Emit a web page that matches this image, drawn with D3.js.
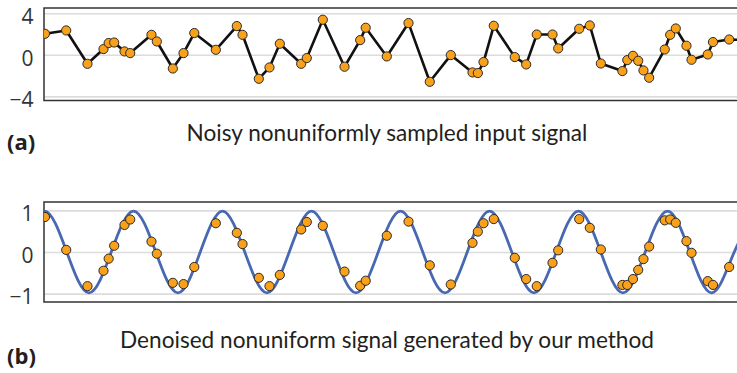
<!DOCTYPE html>
<html>
<head>
<meta charset="utf-8">
<script src="https://cdn.jsdelivr.net/npm/d3@7"></script>
<style>
  body { margin: 0; background: #fff; }
  svg { display: block; }
</style>
</head>
<body>
<div id="chart"></div>
<script>
// sample times (shared by both panels), in periods of the clean signal
const sampleT = [0.005, 0.244, 0.483, 0.663, 0.721, 0.783, 0.899, 0.963, 1.202, 1.262,
    1.442, 1.562, 1.683, 1.925, 2.161, 2.225, 2.408, 2.528, 2.644, 2.884,
    2.947, 3.127, 3.371, 3.547, 3.609, 3.846, 4.090, 4.329, 4.565, 4.809,
    4.869, 4.933, 5.048, 5.284, 5.412, 5.531, 5.708, 5.772, 6.008, 6.127,
    6.251, 6.493, 6.548, 6.612, 6.671, 6.730, 6.794, 6.969, 7.030, 7.093,
    7.213, 7.270, 7.452, 7.511, 7.693, 7.91];

// panel (a): noisy input values
const noisyV = [2.02, 2.34, -0.87, 0.55, 1.13, 1.18, 0.32, 0.16, 1.92, 1.28,
    -1.32, 0.16, 2.09, 0.48, 2.76, 1.92, -2.31, -1.22, 1.06, -0.87,
    -0.32, 3.37, -1.15, 1.41, 2.6, -0.16, 3.05, -2.6, -0.03, -1.7,
    -1.76, -0.7, 2.79, -0.22, -0.93, 1.95, 1.95, 0.61, 2.5, 2.82,
    -0.84, -1.57, -0.51, -0.1, -0.58, -1.51, -2.21, 0.51, 1.92, 2.53,
    0.87, -0.48, 0.03, 1.22, 1.47, 1.4];

// panel (b): denoised values at the same times
const denoisedV = [0.84, 0.05, -0.82, -0.45, -0.16, 0.15, 0.65, 0.78, 0.25, -0.04,
    -0.74, -0.77, -0.36, 0.69, 0.46, 0.19, -0.62, -0.82, -0.55, 0.54,
    0.72, 0.63, -0.47, -0.81, -0.69, 0.39, 0.73, -0.32, -0.78, 0.22,
    0.49, 0.69, 0.79, -0.14, -0.65, -0.82, -0.26, 0.04, 0.79, 0.58,
    0.06, -0.79, -0.79, -0.65, -0.43, -0.17, 0.13, 0.76, 0.78, 0.70,
    0.26, -0.02, -0.70, -0.79, -0.36];

// panel (b): reference curve, read at peaks, troughs and zero crossings
const curveT = [-0.25, 0, 0.25, 0.5, 0.75, 1, 1.25, 1.5, 1.75, 2, 2.25, 2.5, 2.75,
    3, 3.25, 3.5, 3.75, 4, 4.25, 4.5, 4.75, 5, 5.25, 5.5, 5.75,
    6, 6.25, 6.5, 6.75, 7, 7.25, 7.5, 7.75, 8];
const curveV = [0, 0.98, 0, -0.98, 0, 0.98, 0, -0.98, 0, 0.98, 0, -0.98, 0,
    0.98, 0, -0.98, 0, 0.98, 0, -0.98, 0, 0.98, 0, -0.98, 0,
    0.98, 0, -0.98, 0, 0.98, 0, -0.98, 0, 0.98];

const ticksA = [-4, 0, 4];
const ticksB = [-1, 0, 1];

const width = 737;
const height = 373;
const left = 44;
const right = 756;

const svg = d3.select("#chart")
    .append("svg")
    .attr("width", width)
    .attr("height", height);

const x = d3.scaleLinear().domain([0, 8]).range([left + 0.5, right + 0.5]);

const fontTick = "'Open Sans', Lato, sans-serif";
const fmt = d => d < 0 ? "\u2212" + Math.abs(d) : String(d);

const drawPanel = (id, yDomain, yRange, ticks) => {
    const y = d3.scaleLinear().domain(yDomain).range(yRange);
    const top = yRange[1], bottom = yRange[0];

    svg.append("clipPath").attr("id", id)
        .append("rect")
        .attr("x", left).attr("y", top)
        .attr("width", right - left).attr("height", bottom - top);

    // gridlines + labels
    const ax = svg.append("g")
        .attr("transform", `translate(${left},0)`)
        .call(d3.axisLeft(y).tickValues(ticks).tickFormat(fmt)
            .tickSize(-(right - left)).tickPadding(10.5));
    ax.select(".domain").remove();
    ax.selectAll("line").attr("stroke", "#dcdcdc").attr("stroke-width", 1.6);
    ax.selectAll("text")
        .attr("y", 3.5)
        .style("font-family", fontTick)
        .style("font-size", "21px")
        .attr("fill", "#333");

    // frame
    svg.append("rect")
        .attr("x", left).attr("y", top)
        .attr("width", right - left).attr("height", bottom - top)
        .attr("fill", "none")
        .attr("stroke", "#333")
        .attr("stroke-width", 1.5);

    const g = svg.append("g").attr("clip-path", `url(#${id})`);
    return { y, g };
};

// panel (a)
const pa = drawPanel("clipA", [-4.4, 4.5], [100.5, 8], ticksA);
const lineA = d3.line()
    .x(i => x(sampleT[i]))
    .y(i => pa.y(noisyV[i]));
pa.g.append("path")
    .attr("d", lineA(d3.range(noisyV.length)))
    .attr("fill", "none")
    .attr("stroke", "#111")
    .attr("stroke-width", 2.6)
    .attr("stroke-linejoin", "round");
pa.g.selectAll("circle")
    .data(noisyV)
    .join("circle")
    .attr("cx", (d, i) => x(sampleT[i]))
    .attr("cy", d => pa.y(d))
    .attr("r", 4.6)
    .attr("fill", "#f9a11b")
    .attr("stroke", "#2a2a2a")
    .attr("stroke-width", 1);

// panel (b)
const pb = drawPanel("clipB", [-1.2, 1.2], [302, 202], ticksB);
const lineB = d3.line()
    .x(i => x(curveT[i]))
    .y(i => pb.y(curveV[i]))
    .curve(d3.curveNatural);
pb.g.append("path")
    .attr("d", lineB(d3.range(curveT.length)))
    .attr("fill", "none")
    .attr("stroke", "#4868b2")
    .attr("stroke-width", 2.8);
pb.g.selectAll("circle")
    .data(denoisedV)
    .join("circle")
    .attr("cx", (d, i) => x(sampleT[i]))
    .attr("cy", d => pb.y(d))
    .attr("r", 4.6)
    .attr("fill", "#f9a11b")
    .attr("stroke", "#2a2a2a")
    .attr("stroke-width", 1);

// captions
const fontCap = "Lato, 'Open Sans', sans-serif";
const captions = [
    { label: "(a)", text: "Noisy nonuniformly sampled input signal", yText: 141, yLabel: 150 },
    { label: "(b)", text: "Denoised nonuniform signal generated by our method", yText: 348, yLabel: 364 }
];
captions.forEach(c => {
    svg.append("text")
        .attr("x", 387).attr("y", c.yText)
        .attr("text-anchor", "middle")
        .style("font-family", fontCap)
        .style("font-size", "22.6px")
        .attr("fill", "#231f20")
        .text(c.text);
    svg.append("text")
        .attr("x", 7).attr("y", c.yLabel)
        .style("font-family", "'Open Sans', sans-serif")
        .style("font-size", "22px")
        .style("font-weight", "bold")
        .attr("fill", "#231f20")
        .text(c.label);
});
</script>
</body>
</html>
